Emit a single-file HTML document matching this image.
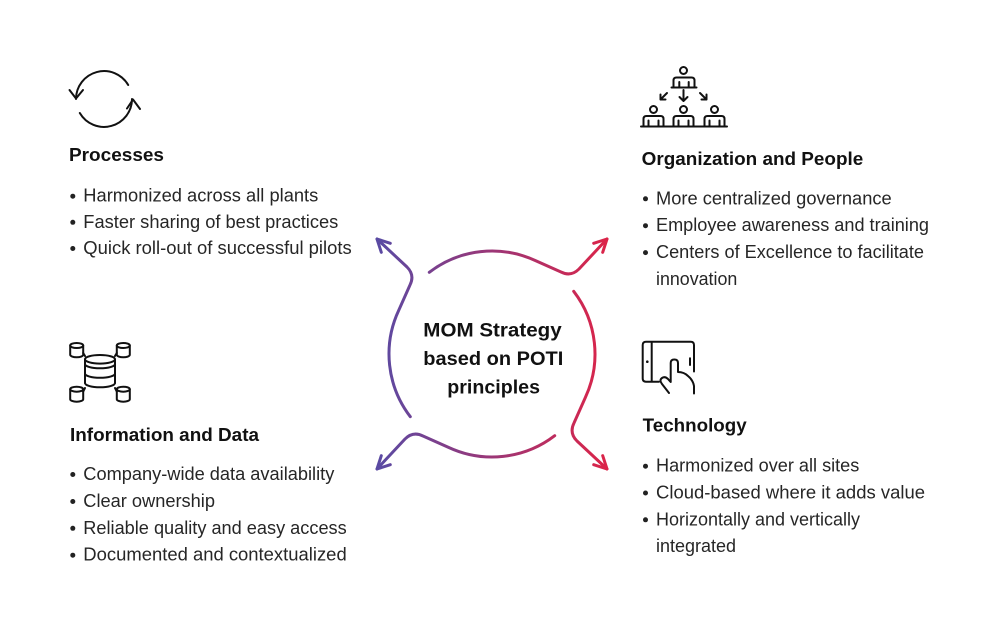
<!DOCTYPE html>
<html>
<head>
<meta charset="utf-8">
<style>
html,body{margin:0;padding:0;background:#fff;}
svg{display:block;}
.t{font-family:"Liberation Sans",Arial,sans-serif;font-weight:bold;font-size:18.5px;fill:#111;}
.b{font-family:"Liberation Sans",Arial,sans-serif;font-size:18px;fill:#262626;}
.c{font-family:"Liberation Sans",Arial,sans-serif;font-weight:bold;font-size:19.5px;fill:#111;}
.ic{fill:none;stroke:#111;stroke-width:2;stroke-linecap:round;stroke-linejoin:round;}
.ar{fill:none;stroke:url(#g);stroke-width:3;stroke-linecap:round;stroke-linejoin:round;}
</style>
</head>
<body>
<svg width="1000" height="623" viewBox="0 0 1000 623" xmlns="http://www.w3.org/2000/svg">
<defs>
<linearGradient id="g" gradientUnits="userSpaceOnUse" x1="378" y1="0" x2="608" y2="0">
<stop offset="0" stop-color="#5a4aa3"/>
<stop offset="0.5" stop-color="#9c3676"/>
<stop offset="1" stop-color="#dc2448"/>
</linearGradient>
</defs>
<rect width="1000" height="623" fill="#fff"/>

<!-- Center arcs -->
<path class="ar" d="M410.3,416.7 A103 103 0 0 1 398.65,310.5 L410,285 Q415,275 407,267 L377,239"/>
<path class="ar" d="M390.3,243.3 L377,239 L381.3,252.3"/>

<path class="ar" d="M429.3,272.3 A103 103 0 0 1 535.5,260.65 L561,272 Q571,277 579,269 L607,239"/>
<path class="ar" d="M602.7,252.3 L607,239 L593.7,243.3"/>

<path class="ar" d="M573.7,291.3 A103 103 0 0 1 585.35,397.5 L574,423 Q569,433 577,441 L607,469"/>
<path class="ar" d="M593.7,464.7 L607,469 L602.7,455.7"/>

<path class="ar" d="M554.7,435.7 A103 103 0 0 1 448.5,447.35 L423,436 Q413,431 405,439 L377,469"/>
<path class="ar" d="M381.3,455.7 L377,469 L390.3,464.7"/>

<!-- Center text -->
<text class="c" x="423.3" y="336.7" textLength="138.4" lengthAdjust="spacingAndGlyphs">MOM Strategy</text>
<text class="c" x="423.3" y="365" textLength="140" lengthAdjust="spacingAndGlyphs">based on POTI</text>
<text class="c" x="447.3" y="393.3" textLength="92.7" lengthAdjust="spacingAndGlyphs">principles</text>

<!-- Processes icon -->
<path class="ic" d="M128.2,85 A28 28 0 0 0 76,99"/>
<path class="ic" d="M69.5,90 L76,98.5 L83,90"/>
<path class="ic" d="M79.8,113 A28 28 0 0 0 132,99"/>
<path class="ic" d="M127,108.5 L133,99.5 L140,109"/>

<!-- Processes text -->
<text class="t" x="69" y="161" textLength="95" lengthAdjust="spacingAndGlyphs">Processes</text>
<circle cx="72.8" cy="196.2" r="2.5" fill="#222"/>
<text class="b" x="83.3" y="201.7" textLength="235" lengthAdjust="spacingAndGlyphs">Harmonized across all plants</text>
<circle cx="72.8" cy="222.3" r="2.5" fill="#222"/>
<text class="b" x="83.3" y="227.8" textLength="255" lengthAdjust="spacingAndGlyphs">Faster sharing of best practices</text>
<circle cx="72.8" cy="248.5" r="2.5" fill="#222"/>
<text class="b" x="83.3" y="254" textLength="268.4" lengthAdjust="spacingAndGlyphs">Quick roll-out of successful pilots</text>

<!-- Org icon -->
<g class="ic">
<circle cx="683.5" cy="70.5" r="3.5"/>
<path d="M673.5,87 V80.5 Q673.5,77.5 676.5,77.5 H691.5 Q694.5,77.5 694.5,80.5 V87"/>
<path d="M679.3,82 V87 M688.7,82 V87"/>
<path d="M671.5,87.5 H696.5"/>
<path d="M667,93 L660.5,99.5 M660.5,94.5 V99.5 H665.5"/>
<path d="M683.5,90 V101 M679.5,97 L683.5,101 L687.5,97"/>
<path d="M700,93 L706.5,99.5 M706.5,94.5 V99.5 H701.5"/>
<circle cx="653.5" cy="109.5" r="3.5"/>
<path d="M643.5,126 V119 Q643.5,116 646.5,116 H660.5 Q663.5,116 663.5,119 V126 M648.5,120.5 V126 M658.5,120.5 V126"/>
<circle cx="683.5" cy="109.5" r="3.5"/>
<path d="M673.5,126 V119 Q673.5,116 676.5,116 H690.5 Q693.5,116 693.5,119 V126 M678.5,120.5 V126 M688.5,120.5 V126"/>
<circle cx="714.5" cy="109.5" r="3.5"/>
<path d="M704.5,126 V119 Q704.5,116 707.5,116 H721.5 Q724.5,116 724.5,119 V126 M709.5,120.5 V126 M719.5,120.5 V126"/>
<path d="M641,126.5 H727"/>
</g>

<!-- Org text -->
<text class="t" x="641.7" y="165" textLength="221.6" lengthAdjust="spacingAndGlyphs">Organization and People</text>
<circle cx="645.5" cy="198.8" r="2.5" fill="#222"/>
<text class="b" x="656" y="204.3" textLength="235.7" lengthAdjust="spacingAndGlyphs">More centralized governance</text>
<circle cx="645.5" cy="225.7" r="2.5" fill="#222"/>
<text class="b" x="656" y="231.2" textLength="273" lengthAdjust="spacingAndGlyphs">Employee awareness and training</text>
<circle cx="645.5" cy="252.6" r="2.5" fill="#222"/>
<text class="b" x="656" y="258.1" textLength="268" lengthAdjust="spacingAndGlyphs">Centers of Excellence to facilitate</text>
<text class="b" x="656" y="285" textLength="81.3" lengthAdjust="spacingAndGlyphs">innovation</text>

<!-- DB icon -->
<g class="ic">
<ellipse cx="100" cy="359.3" rx="15" ry="4.3"/>
<path d="M85,359.3 V383 M115,359.3 V383"/>
<path d="M85,364 A15 4.3 0 0 0 115,364 M85,373.5 A15 4.3 0 0 0 115,373.5 M85,383 A15 4.3 0 0 0 115,383"/>
<ellipse cx="76.7" cy="345.5" rx="6.5" ry="2.5"/>
<path d="M70.2,345.5 V354.8 A6.5 2.5 0 0 0 83.2,354.8 V345.5"/>
<ellipse cx="123.3" cy="345.5" rx="6.5" ry="2.5"/>
<path d="M116.8,345.5 V354.8 A6.5 2.5 0 0 0 129.8,354.8 V345.5"/>
<ellipse cx="76.7" cy="389.2" rx="6.5" ry="2.5"/>
<path d="M70.2,389.2 V399.2 A6.5 2.5 0 0 0 83.2,399.2 V389.2"/>
<ellipse cx="123.3" cy="389.2" rx="6.5" ry="2.5"/>
<path d="M116.8,389.2 V399.2 A6.5 2.5 0 0 0 129.8,399.2 V389.2"/>
<path d="M83.2,353 L85,356 M116.8,353 L115,356 M83.2,391.5 L85,388 M116.8,391.5 L115,388"/>
</g>

<!-- Info text -->
<text class="t" x="70" y="441" textLength="189" lengthAdjust="spacingAndGlyphs">Information and Data</text>
<circle cx="72.8" cy="474.5" r="2.5" fill="#222"/>
<text class="b" x="83.3" y="480" textLength="251" lengthAdjust="spacingAndGlyphs">Company-wide data availability</text>
<circle cx="72.8" cy="501.5" r="2.5" fill="#222"/>
<text class="b" x="83.3" y="507" textLength="131.7" lengthAdjust="spacingAndGlyphs">Clear ownership</text>
<circle cx="72.8" cy="528.3" r="2.5" fill="#222"/>
<text class="b" x="83.3" y="533.8" textLength="263.4" lengthAdjust="spacingAndGlyphs">Reliable quality and easy access</text>
<circle cx="72.8" cy="555.2" r="2.5" fill="#222"/>
<text class="b" x="83.3" y="560.7" textLength="263.4" lengthAdjust="spacingAndGlyphs">Documented and contextualized</text>

<!-- Tablet icon -->
<g class="ic">
<path d="M659,381.7 H646 Q642.7,381.7 642.7,378.4 V345 Q642.7,341.7 646,341.7 H690.7 Q694,341.7 694,345 V371.5"/>
<path d="M651.7,342 V381.5"/>
<path d="M690,358.3 V365"/>
<path d="M669,393 L662,384 Q659,380 662,378 Q665,376 668,379 L670.7,382 V363 Q670.7,359.5 674.3,359.5 Q678,359.5 678,363 V372 Q684,372 688,376 Q693,380 694,386 V393.5"/>
</g>
<circle cx="647.3" cy="361.7" r="1.3" fill="#111"/>

<!-- Technology text -->
<text class="t" x="642.7" y="431.7" textLength="104" lengthAdjust="spacingAndGlyphs">Technology</text>
<circle cx="645.5" cy="466.2" r="2.5" fill="#222"/>
<text class="b" x="656" y="471.7" textLength="203.3" lengthAdjust="spacingAndGlyphs">Harmonized over all sites</text>
<circle cx="645.5" cy="493" r="2.5" fill="#222"/>
<text class="b" x="656" y="498.5" textLength="269" lengthAdjust="spacingAndGlyphs">Cloud-based where it adds value</text>
<circle cx="645.5" cy="519.8" r="2.5" fill="#222"/>
<text class="b" x="656" y="525.3" textLength="204" lengthAdjust="spacingAndGlyphs">Horizontally and vertically</text>
<text class="b" x="656" y="552" textLength="80" lengthAdjust="spacingAndGlyphs">integrated</text>
</svg>
</body>
</html>
